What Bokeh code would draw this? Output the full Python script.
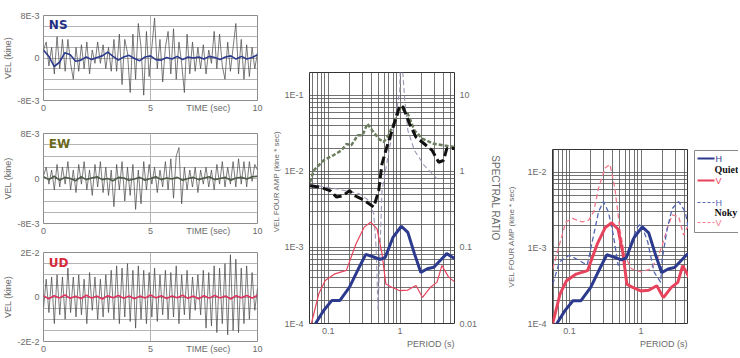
import numpy as np
from bokeh.plotting import figure
from bokeh.layouts import row, column
from bokeh.models import FixedTicker, Range1d, LogAxis, LogScale, Label, Spacer, Title
from bokeh.core.properties import value
from bokeh.embed import file_html
from bokeh.resources import INLINE

# ---------------- data ----------------
UNIT = 1e-3  # time-series values are stored in units of 1E-3 kine

ns_wave = [1.5, 3.0, -1.5, 2.0, -3.0, 4.0, -2.0, 3.5, -2.5, 3.5,
           -1.0, -4.0, 2.0, -2.5, 2.5, -2.0, 3.0, -3.0, 1.5, -1.0,
           3.0, -1.0, 2.5, -2.0, 2.0, -2.5, 3.5, -2.5, 4.5, -5.0,
           3.5, 1.0, -6.5, 4.5, -4.0, 6.5, 2.0, -7.0, 5.0, -3.5,
           2.0, 7.5, -2.0, 3.5, -4.5, 2.0, 5.0, -3.0, 5.5, -4.0,
           3.0, -1.0, -6.5, 4.5, -3.0, 3.0, -2.5, 2.0, -2.0, 2.5,
           -3.0, 1.5, -1.0, 5.0, -2.0, 4.5, -1.5, -4.0, 3.0, -2.5,
           2.0, 6.5, -3.0, 3.5, -4.0, 2.5, -3.5, 2.0, -2.0, 1.0]
ns_smooth = [1.5, 0.3, -1.6, -0.8, 1.0, 0.6, -0.6, -0.4, 0.2, -0.3,
             0.1, 0.4, 1.1, 0.3, -0.4, 0.2, 0.5, -0.1, -0.5, 0.2,
             0.4, -0.3, -0.4, 0.1, -0.2, 0.3, -0.3, 0.2, 0.0, 0.2,
             -0.2, 0.3, 0.1, -0.3, 0.2, 0.4, -0.2, 0.3, -0.2, 0.1, 0.6]

ew_wave = [0.5, 2.0, -1.0, 1.5, -2.0, 2.5, -1.5, 2.0, -1.0, 3.0,
           -2.0, 1.5, -2.5, 2.5, -1.0, 3.0, -2.0, 1.5, -3.0, 2.5,
           -1.5, 3.0, -2.5, 2.0, -3.0, 1.5, -5.0, 2.5, -2.0, 3.0,
           -4.0, 2.0, -3.0, 2.5, -5.5, 1.5, -4.5, 3.0, -2.0, 2.5,
           -1.0, 2.0, -2.5, 1.5, -1.5, 3.0, -2.0, 3.5, -3.5, 4.0,
           5.5, -4.5, 2.0, -2.0, 1.5, -1.5, 2.0, -2.5, 1.5, -1.0,
           2.0, -1.5, 1.5, -2.0, 2.5, -1.0, 3.0, -1.5, 2.0, -1.0,
           3.0, -1.5, 3.5, -1.0, 3.0, -1.5, 3.0, -0.5, 2.5, 1.5]
ew_smooth = [0.3, -0.2, 0.4, -0.3, 0.2, 0.0, -0.4, 0.3, -0.2, 0.1,
             0.3, -0.2, 0.0, -0.4, 0.2, 0.1, -0.3, -0.1, 0.2, -0.3,
             0.0, 0.3, -0.2, 0.1, -0.1, 0.2, -0.3, 0.0, 0.2, -0.2,
             0.1, 0.3, -0.2, 0.0, 0.2, -0.3, 0.1, 0.2, -0.1, 0.3, 0.4]

ud_wave = [-5, 8, -7, 9, -12, 10, -8, 9, -10, 13,
           -7, 9, -9, 10, -8, 8, -12, 11, -6, 9,
           -10, 8, -9, 10, -7, 12, -10, 14, -12, 13,
           -9, 15, -11, 12, -14, 14, -10, 12, -12, 11,
           -9, 13, -11, 10, -8, 12, -10, 11, -9, 14,
           -12, 10, -8, 12, -10, 9, -6, 10, -8, 12,
           -14, 11, -13, 14, -16, 13, -12, 15, -17, 19,
           -15, 17, -16, 13, -12, 14, -10, 11, -6, 4]
ud_smooth = [0.5, -0.8, 0.6, -0.4, 0.9, -0.6, 0.3, -0.7, 0.8, -0.5,
             0.4, -0.9, 0.6, -0.3, 0.7, -0.6, 0.5, -0.8, 0.4, -0.5,
             0.9, -0.4, 0.6, -0.7, 0.5, -0.3, 0.8, -0.6, 0.4, -0.8,
             0.6, -0.5, 0.7, -0.4, 0.5, -0.9, 0.6, -0.3, 0.7, -0.5, 0.8]

# Fourier amplitude spectra (period s, kine*sec)
quiet_h_period = [0.062, 0.0667, 0.0865, 0.112, 0.145, 0.198, 0.27, 0.333, 0.41, 0.53,
                  0.62, 0.80, 1.04, 1.28, 1.58, 1.94, 2.39, 2.94, 3.61, 4.45, 5.77]
quiet_h_amp = [0.9e-4, 1.0e-4, 1.48e-4, 2.0e-4, 2.0e-4, 3.0e-4, 5.5e-4, 8.1e-4, 7.6e-4, 6.95e-4,
               7.4e-4, 1.37e-3, 1.9e-3, 1.58e-3, 8.3e-4, 4.7e-4, 5.25e-4, 5.5e-4, 6.75e-4, 8.3e-4, 7.1e-4]
quiet_v_period = [0.0584, 0.074, 0.091, 0.124, 0.179, 0.244, 0.316, 0.389, 0.478, 0.56,
                  0.634, 0.763, 0.99, 1.28, 1.66, 2.05, 2.65, 3.26, 3.81, 4.7, 5.77]
quiet_v_amp = [1.0e-4, 2.46e-4, 3.68e-4, 4.5e-4, 5.0e-4, 1.12e-3, 1.85e-3, 2.15e-3, 1.76e-3, 8.3e-4,
               3.3e-4, 3.0e-4, 2.7e-4, 2.75e-4, 3.16e-4, 2.2e-4, 3.0e-4, 3.5e-4, 5.8e-4, 4.1e-4, 3.5e-4]

noisy_h_period = [0.0585, 0.0723, 0.099, 0.136, 0.177, 0.218, 0.255, 0.298, 0.35, 0.41,
                  0.479, 0.591, 0.73, 0.90, 1.0, 1.24, 1.52, 1.88, 1.98, 2.32, 2.72, 3.35, 4.14, 4.59]
noisy_h_amp = [3.3e-4, 6.5e-4, 8.0e-4, 6.85e-4, 5.9e-4, 1.48e-3, 3.0e-3, 4.1e-3, 3.0e-3, 1.48e-3,
               5.9e-4, 6.1e-4, 1.2e-3, 1.9e-3, 2.1e-3, 1.2e-3, 4.8e-4, 3.5e-4, 7.2e-4, 1.8e-3,
               3.3e-3, 4.1e-3, 3.0e-3, 1.8e-3]
noisy_v_period = [0.0585, 0.0723, 0.089, 0.11, 0.151, 0.186, 0.218, 0.255, 0.315, 0.368,
                  0.431, 0.505, 0.591, 0.73, 1.0, 1.37, 1.69, 1.98, 2.32, 2.72, 3.35, 3.92, 4.59]
noisy_v_amp = [5.3e-4, 1.09e-3, 2.2e-3, 2.46e-3, 2.2e-3, 2.33e-3, 3.0e-3, 6.2e-3, 1.14e-2, 1.27e-2,
               6.2e-3, 1.8e-3, 8.0e-4, 5.3e-4, 4.8e-4, 5.3e-4, 7.2e-4, 1.09e-3, 1.8e-3, 2.73e-3,
               2.6e-3, 1.48e-3, 2.0e-3]

# spectral ratios (right axis of middle panel)
hv_period = [0.056, 0.078, 0.106, 0.131, 0.161, 0.198, 0.232, 0.285, 0.37, 0.43,
             0.504, 0.56, 0.653, 0.80, 0.99, 1.10, 1.35, 1.66, 2.16, 2.79, 3.44, 4.02, 4.45, 5.77]
hv_ratio = [0.65, 0.62, 0.56, 0.46, 0.48, 0.56, 0.48, 0.44, 0.376, 0.34,
            0.56, 1.26, 2.09, 3.83, 7.4, 7.0, 4.25, 2.83, 2.31, 1.89, 1.32, 1.4, 2.0, 2.0]
green_period = [0.056, 0.063, 0.0865, 0.118, 0.153, 0.179, 0.209, 0.257, 0.30, 0.351,
                0.41, 0.504, 0.589, 0.689, 0.848, 1.02, 1.28, 1.58, 2.05, 2.94, 4.02, 5.77]
green_ratio = [0.72, 1.03, 1.4, 1.63, 1.89, 2.3, 2.2, 2.98, 2.98, 4.25,
               3.46, 2.69, 2.43, 2.98, 4.69, 7.0, 5.74, 3.46, 2.69, 2.31, 2.2, 2.09]
model_period = [0.056, 0.131, 0.27, 0.37, 0.43, 0.464, 0.493, 0.53, 0.56, 0.689,
                0.848, 0.99, 1.02, 1.16, 1.28, 1.58, 2.16, 3.26]
model_ratio = [0.67, 0.59, 0.51, 0.415, 0.277, 0.1, 0.015, 0.124, 0.56, 1.71,
               4.69, 11.6, 50.0, 8.6, 3.46, 1.89, 1.2, 0.8]

amp_ticks = [1e-4, 1e-3, 1e-2, 1e-1]
amp_labels = ["1E-4", "1E-3", "1E-2", "1E-1"]
ratio_ticks = [0.01, 0.1, 1, 10]
ratio_labels = ["0.01", "0.1", "1", "10"]
period_ticks = [0.1, 1]
period_labels = ["0.1", "1"]

# ---------------- style ----------------
FONT = "Liberation Sans"
TXT = "#6a6a6a"
BLUE = "#2c3a8e"
RED = "#e8435d"
H_TOTAL = 356
TOP_LOG = 72
BOTTOM_LOG = 33


def style_axis(ax, size="9px"):
    ax.major_label_text_font = FONT
    ax.major_label_text_font_size = size
    ax.major_label_text_color = TXT
    ax.axis_label_text_font = FONT
    ax.axis_label_text_font_size = "9px"
    ax.axis_label_text_font_style = "normal"
    ax.axis_label_text_color = TXT
    ax.axis_line_color = None
    ax.major_tick_out = 0
    ax.major_tick_in = 0
    ax.minor_tick_out = 0
    ax.minor_tick_in = 0


def time_panel(h, top, bottom, lim_units, step_units, lim_label, wave, smooth,
               smooth_color, tag, tag_color):
    lim = lim_units * UNIT
    p = figure(width=263, height=h, x_range=Range1d(0, 10), y_range=Range1d(-lim, lim),
               output_backend="svg", toolbar_location=None,
               min_border_left=39, min_border_right=6,
               min_border_top=top, min_border_bottom=bottom)
    p.outline_line_color = "#8c8c8c"
    t_w = np.linspace(0, 10, len(wave))
    t_s = np.linspace(0, 10, len(smooth))
    p.line(t_w, np.array(wave) * UNIT, color="#444444", line_width=0.7)
    p.line(t_s, np.array(smooth) * UNIT, color=smooth_color, line_width=1.6)
    p.yaxis.ticker = FixedTicker(ticks=[-lim, 0, lim])
    p.yaxis.major_label_overrides = {-lim: "-" + lim_label, 0: "0", lim: lim_label}
    p.yaxis.axis_label = "VEL (kine)"
    p.yaxis.axis_label_standoff = 1
    p.yaxis.major_label_standoff = 4
    p.ygrid.ticker = FixedTicker(ticks=[k * step_units * UNIT for k in range(-4, 5)])
    p.ygrid.grid_line_color = "#b4b4b4"
    p.xaxis.ticker = FixedTicker(ticks=[0, 5, 7.7, 10])
    p.xaxis.major_label_overrides = {7.7: "TIME (sec)"}
    p.xaxis.major_label_standoff = 2
    p.xgrid.ticker = FixedTicker(ticks=[5])
    p.xgrid.grid_line_color = "#b4b4b4"
    for ax in (p.xaxis[0], p.yaxis[0]):
        style_axis(ax)
    p.add_layout(Label(x=0.25, y=lim * 0.93, text=tag, text_color=tag_color,
                       text_font="DejaVu Sans", text_font_style="bold",
                       text_font_size="12px", text_baseline="top"))
    return p


ns = time_panel(120, 15, 20, 8, 2, "8E-3", ns_wave, ns_smooth, BLUE, "NS", "#1f2f86")
ew = time_panel(122, 13, 19, 8, 2, "8E-3", ew_wave, ew_smooth, "#4d5a48", "EW", "#6d6a1c")
ud = time_panel(114, 10, 13, 20, 5, "2E-2", ud_wave, ud_smooth, "#e0335f", "UD", "#d42a3c")


def minor_list(lo, hi):
    return [m * 10.0 ** k for k in range(lo, hi) for m in range(2, 10)]


def log_panel(width, height, left, right, x_lo, x_hi, y_lo, y_hi, period_dx):
    p = figure(width=width, height=height, x_axis_type="log", y_axis_type="log",
               x_range=Range1d(x_lo, x_hi), y_range=Range1d(y_lo, y_hi),
               output_backend="svg", toolbar_location=None,
               min_border_left=left, min_border_right=right,
               min_border_top=TOP_LOG, min_border_bottom=BOTTOM_LOG)
    p.outline_line_color = "#333333"
    p.yaxis.ticker = FixedTicker(ticks=amp_ticks, minor_ticks=minor_list(-5, 0))
    p.yaxis.major_label_overrides = dict(zip(amp_ticks, amp_labels))
    p.xaxis.ticker = FixedTicker(ticks=period_ticks, minor_ticks=minor_list(-2, 1))
    p.xaxis.major_label_overrides = dict(zip(period_ticks, period_labels))
    p.xaxis.major_label_standoff = 4
    p.yaxis.major_label_standoff = 6
    for g in (p.xgrid[0], p.ygrid[0]):
        g.grid_line_color = "#505050"
        g.grid_line_width = 0.8
        g.minor_grid_line_color = "#505050"
        g.minor_grid_line_width = 0.8
    for ax in (p.xaxis[0], p.yaxis[0]):
        style_axis(ax)
    p.add_layout(Title(text="PERIOD (s)", align="right", offset=period_dx, standoff=1,
                       text_font=FONT, text_font_size="9px", text_font_style="normal",
                       text_color=TXT), "below")
    return p


mid = log_panel(241, H_TOTAL, 46, 46, 0.055, 5.7, 1e-4, 0.2, 0)
mid.add_layout(Title(text="VEL FOUR AMP (kine * sec)", align="right", offset=58, standoff=2,
                     text_font=FONT, text_font_size="8px", text_font_style="normal",
                     text_color=TXT), "left")
mid.extra_y_ranges = {"ratio": Range1d(0.01, 20)}
mid.extra_y_scales = {"ratio": LogScale()}
rax = LogAxis(y_range_name="ratio", ticker=FixedTicker(ticks=ratio_ticks),
              axis_label="SPECTRAL RATIO")
rax.major_label_overrides = dict(zip(ratio_ticks, ratio_labels))
rax.major_label_standoff = 5
rax.axis_label_standoff = 10
style_axis(rax)
rax.axis_label_text_font_size = "10px"
mid.add_layout(rax, "right")

mid.line(green_period, green_ratio, y_range_name="ratio", color="#6c7d5e",
         line_width=2.5, line_dash="4 2")
mid.line(model_period, model_ratio, y_range_name="ratio", color="#9a98b8",
         line_width=1.1, line_dash="5 3")
mid.line(hv_period, hv_ratio, y_range_name="ratio", color="#111111",
         line_width=3, line_dash="9 4")
mid.line(quiet_v_period, quiet_v_amp, color=RED, line_width=1.2)
mid.line(quiet_h_period, quiet_h_amp, color=BLUE, line_width=3)

RT_DROP = 77
rt = log_panel(184, H_TOTAL - RT_DROP, 46, 0, 0.058, 4.6, 1e-4, 2e-2, 1)
rt.yaxis.axis_label = "VEL FOUR AMP (kine * sec)"
rt.yaxis[0].axis_label_standoff = 8
rt.yaxis[0].axis_label_text_font_size = "8px"
rt.line(noisy_v_period, noisy_v_amp, color="#f2788a", line_width=1.3, line_dash="5 3")
rt.line(noisy_h_period, noisy_h_amp, color="#5566b0", line_width=1.3, line_dash="5 3")
rt.line(quiet_v_period, quiet_v_amp, color=RED, line_width=3)
rt.line(quiet_h_period, quiet_h_amp, color=BLUE, line_width=3)

# ---------------- legend (own small canvas; its y range equals page pixels) ----------------
leg = figure(width=50, height=H_TOTAL, x_range=Range1d(0, 50),
             y_range=Range1d(H_TOTAL - BOTTOM_LOG, TOP_LOG),
             output_backend="svg", toolbar_location=None,
             min_border_left=0, min_border_right=0,
             min_border_top=TOP_LOG, min_border_bottom=BOTTOM_LOG,
             x_axis_location=None, y_axis_location=None)
leg.outline_line_color = None
leg.grid.visible = False
leg.quad(left=[6], right=[90], top=[150], bottom=[232], fill_color="white",
         line_color="#8a8a8a", line_width=1)
leg_colors = [BLUE, RED, "#5566b0", "#f2788a"]
leg_dash = ["solid", "solid", "3 2", "3 2"]
leg_y = [158, 180, 202, 222]
leg_txt = ["H", "V", "H", "V"]
for c, d, yy, tx in zip(leg_colors, leg_dash, leg_y, leg_txt):
    leg.line([9, 26], [yy, yy], color=c, line_width=2 if d == "solid" else 1.2, line_dash=d)
    leg.text(x=[27], y=[yy], text=[tx], text_color=c, text_font=value(FONT),
             text_font_size="9px", text_baseline="middle")
leg.text(x=[26, 26], y=[169, 212], text=["Quiet", "Noky"], text_color="#111111",
         text_font=value("Liberation Serif"), text_font_style="bold",
         text_font_size="10px", text_baseline="middle")

layout = row(column(ns, ew, ud), mid, column(Spacer(width=184, height=RT_DROP), rt), leg)
open("out.html", "w").write(file_html(layout, INLINE))
